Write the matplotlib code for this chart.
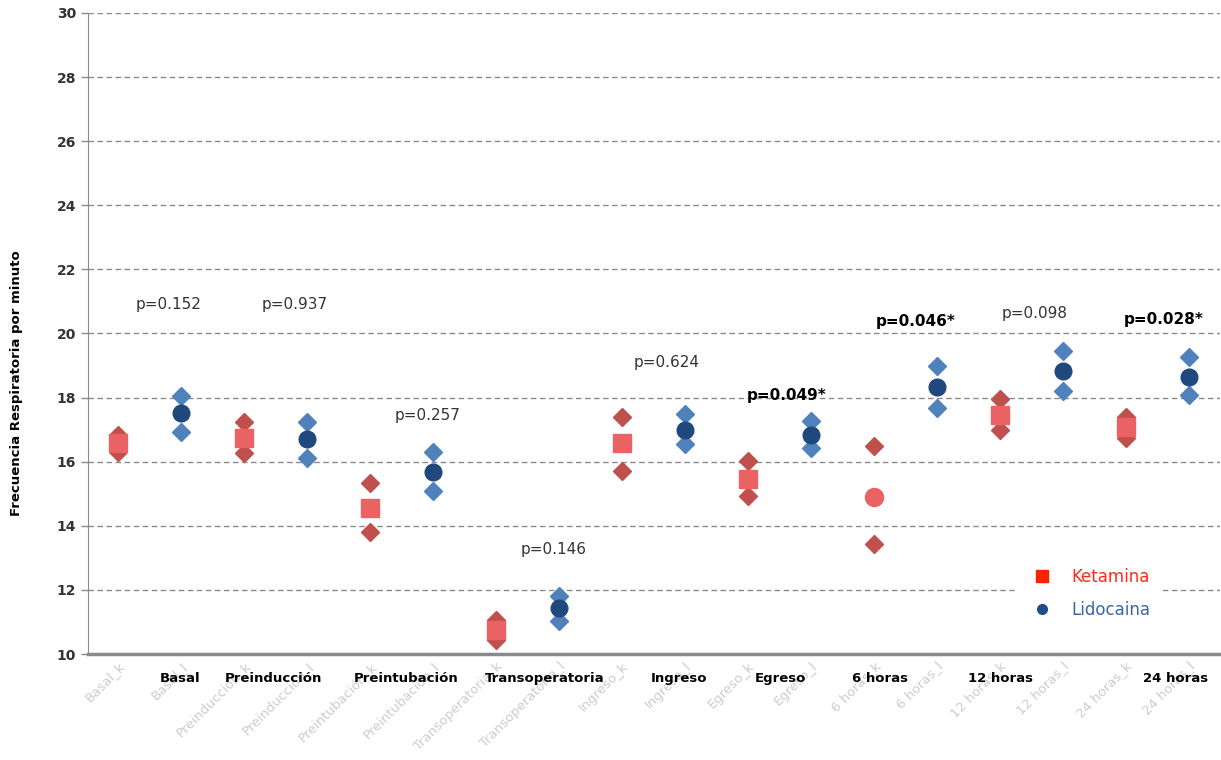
import matplotlib
matplotlib.use("Agg")
import matplotlib.pyplot as plt

# data
categories = ["Basal_k", "Basal_l", "Preinducción_k", "Preinducción_l",
              "Preintubación_k", "Preintubación_l", "Transoperatoria_k", "Transoperatoria_l",
              "Ingreso_k", "Ingreso_l", "Egreso_k", "Egreso_l",
              "6 horas_k", "6 horas_l", "12 horas_k", "12 horas_l",
              "24 horas_k", "24 horas_l"]
mean_vals = [16.58, 17.51, 16.75, 16.70, 14.57, 15.67, 10.75, 11.43, 16.59, 16.99,
             15.45, 16.83, 14.91, 18.32, 17.46, 18.84, 17.09, 18.65]
upper_vals = [16.83, 18.06, 17.25, 17.25, 15.33, 16.29, 11.06, 11.81, 17.40, 17.48,
              16.02, 17.27, 16.50, 18.99, 17.96, 19.46, 17.40, 19.26]
lower_vals = [16.30, 16.94, 16.26, 16.10, 13.82, 15.10, 10.44, 11.04, 15.72, 16.55,
              14.93, 16.42, 13.43, 17.69, 16.99, 18.22, 16.73, 18.08]
# ketamina means are squares, except 6 horas which is drawn as a circle
keta_markers = ["s", "s", "s", "s", "s", "s", "o", "s", "s"]

groups = ["Basal", "Preinducción", "Preintubación", "Transoperatoria", "Ingreso",
          "Egreso", "6 horas", "12 horas", "24 horas"]
group_x = [0.99, 2.46, 4.58, 6.77, 8.90, 10.52, 12.10, 14.02, 16.80]

p_texts = ["p=0.152", "p=0.937", "p=0.257", "p=0.146", "p=0.624", "p=0.049*",
           "p=0.046*", "p=0.098", "p=0.028*"]
p_bold = [False, False, False, False, False, True, True, False, True]
p_x = [0.80, 2.81, 4.91, 6.92, 8.71, 10.62, 12.67, 14.55, 16.60]
p_y = [20.9, 20.9, 17.43, 13.25, 19.11, 18.05, 20.39, 20.61, 20.45]

fig = plt.figure(figsize=(12.21, 7.6), dpi=100)
ax = fig.add_axes([88 / 1221, 106 / 760, 1132 / 1221, 641 / 760])

x = list(range(len(categories)))

# diamonds (upper / lower)
for i in x:
    col = "#c0504d" if i % 2 == 0 else "#4f81bd"
    ax.plot([i, i], [upper_vals[i], lower_vals[i]], linestyle="none", marker="D",
            ms=9, color=col, zorder=3)

# means
for i in x:
    if i % 2 == 0:
        ax.plot(i, mean_vals[i], marker=keta_markers[i // 2], ms=13, color="#ea6264",
                linestyle="none", zorder=4)
    else:
        ax.plot(i, mean_vals[i], marker="o", ms=12, color="#1f497d",
                linestyle="none", zorder=4)

ax.set_xlim(-0.48, 17.5)
ax.set_ylim(10, 30)
ax.set_yticks(range(10, 31, 2))
ax.set_yticklabels([str(v) for v in range(10, 31, 2)], fontweight="bold",
                   fontsize=10, color="#333333")
ax.yaxis.grid(True, linestyle=(0, (4, 2.5)), color="#8a8a8a", linewidth=1)
ax.set_axisbelow(True)

ax.set_xticks(x)
ax.set_xticklabels(categories, rotation=45, ha="right", va="top",
                   rotation_mode="anchor", fontsize=9.5, color="#cccccc")
ax.tick_params(axis="x", length=0, pad=4)
ax.tick_params(axis="y", length=5, color="#8a8a8a", width=1, direction="out")

for s in ["top", "right"]:
    ax.spines[s].set_visible(False)
ax.spines["left"].set_color("#8a8a8a")
ax.spines["bottom"].set_color("#8a8a8a")
ax.spines["bottom"].set_linewidth(2.5)

ax.set_ylabel("Frecuencia Respiratoria por minuto", fontsize=9.5, fontweight="bold")
ax.yaxis.set_label_coords(-0.057, 0.423)

# group labels below the axis
for gx, g in zip(group_x, groups):
    ax.text(gx, 9.25, g, ha="center", va="center", fontsize=9.5, fontweight="bold",
            color="black", clip_on=False)

# p-values
for t, px, py, b in zip(p_texts, p_x, p_y, p_bold):
    ax.text(px, py, t, ha="center", va="center", fontsize=11,
            fontweight="bold" if b else "normal",
            color="black" if b else "#333333")

# legend
h1, = ax.plot([], [], marker="s", linestyle="none", color="#ff2200", ms=9)
h2, = ax.plot([], [], marker="o", linestyle="none", color="#1f4e8c", ms=7)
leg = ax.legend([h1, h2], ["Ketamina", "Lidocaina"], loc="lower right",
                bbox_to_anchor=(0.955, 0.026), frameon=True, fontsize=12,
                handletextpad=0.8, labelspacing=0.9, borderpad=0.6)
leg.get_frame().set_edgecolor("white")
leg.get_frame().set_facecolor("white")
leg.get_frame().set_alpha(1)
leg.texts[0].set_color("#ff2a1a")
leg.texts[1].set_color("#3a66a8")

fig.savefig("out.png", dpi=100)
